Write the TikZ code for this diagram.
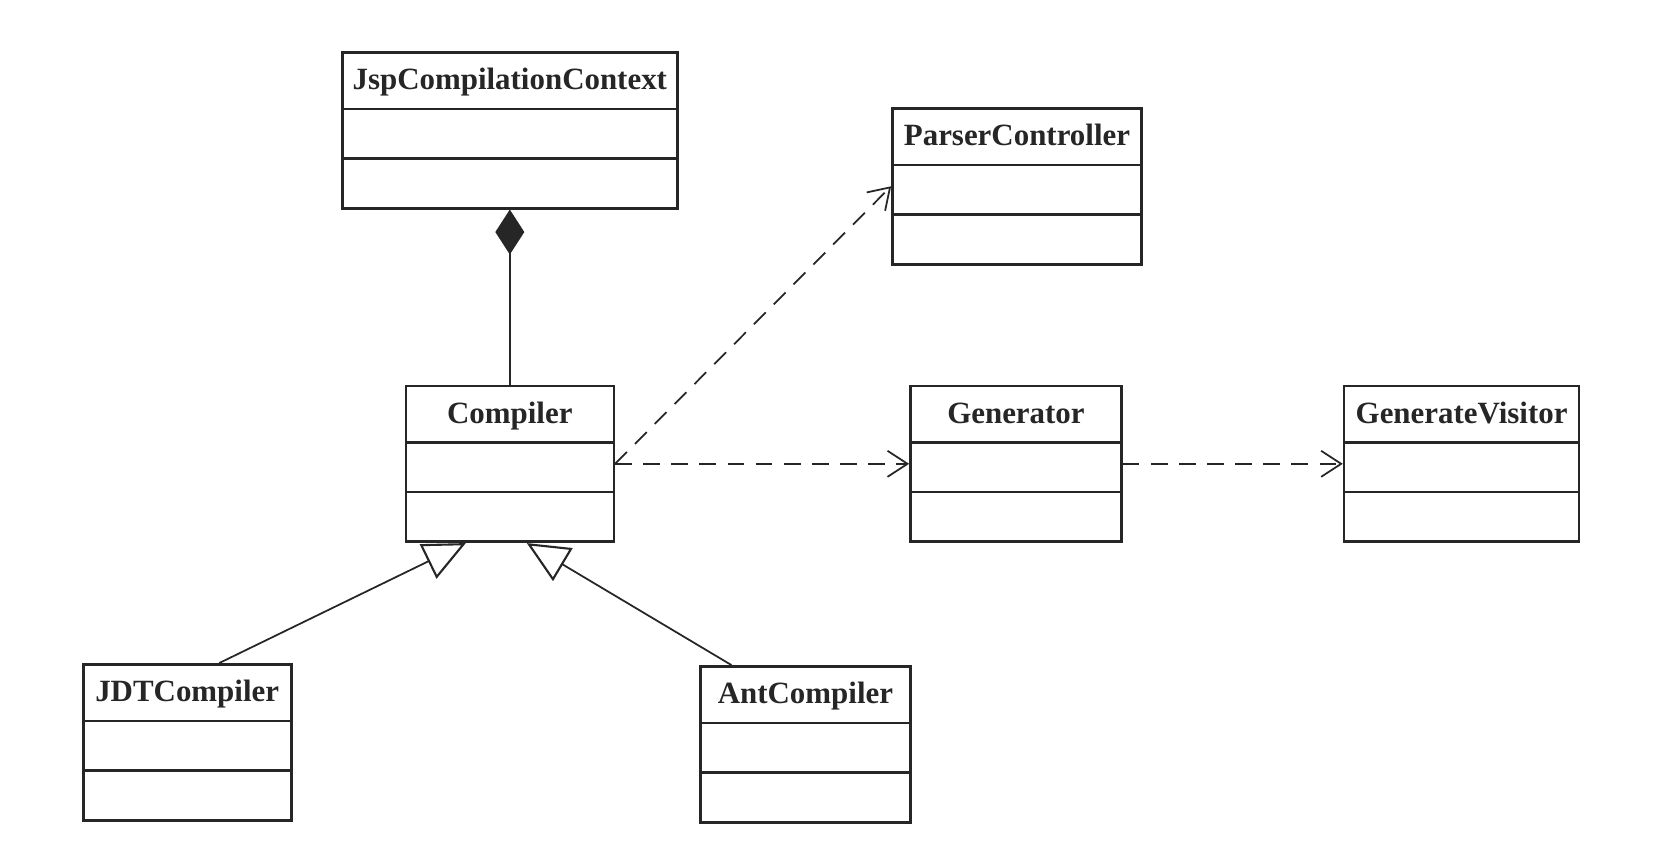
\documentclass[tikz,border=0pt]{standalone}
\usepackage{fontspec}
\setmainfont{Liberation Serif}
\usetikzlibrary{arrows.meta}
\usetikzlibrary{positioning}
\usetikzlibrary{shapes.multipart}
% class name with a fixed strut, so all headers get the same height
\newcommand{\clsname}[1]{\rule[-0.16cm]{0pt}{0.68cm}#1}
\tikzset {
  uml path/.style = {
    draw = black!85,
    line width = 1pt
  },
  % dependency path, dashed with an open arrow
  dep/.style = {
    uml path,
    dash pattern = on 9.5pt off 6.5pt,
    -{Straight Barb[length=0.4cm,width=0.52cm]}
  },
  % generalization path
  inh/.style = {
    uml path,
    -{Triangle[open,length=0.84cm,width=0.76cm,line width=1.2pt]}
  },
  % composition path
  comp/.style = {
    uml path,
    {Diamond[length=0.9cm,width=0.58cm]}-
  }
}
\tikzset {
  % class symbol: name, attributes, operations
  cls/.style = {
    draw = black!85,
    color = black!85,
    line width = 1.5pt,
    rectangle split,
    rectangle split parts = 3,
    rectangle split empty part height = 0.54cm,
    rectangle split empty part depth = 0pt,
    inner ysep = 0.2cm,
    font = \bfseries\fontsize{17.6}{20}\selectfont
  }
}
\begin{document}
\begin{tikzpicture}
  \useasboundingbox (0,0) rectangle (33.1,-17.06);
  \node[cls, minimum width=6.7cm, anchor=north west] (jsp) at (6.82,-1.02) {\clsname{JspCompilationContext}};
  \node[cls, minimum width=4.16cm] (compiler) [below=3.5cm of jsp] {\clsname{Compiler}};
  \node[cls, minimum width=4.98cm] (parser) [above right=2.38cm and 5.52cm of compiler] {\clsname{ParserController}};
  \node[cls, minimum width=4.22cm] (generator) [right=5.88cm of compiler] {\clsname{Generator}};
  \node[cls, minimum width=4.7cm] (visitor) [right=4.4cm of generator] {\clsname{GenerateVisitor}};
  \node[cls, minimum width=4.16cm] (jdt) [below left=2.4cm and 2.24cm of compiler] {\clsname{JDTCompiler}};
  \node[cls, minimum width=4.2cm] (ant) [below right=2.44cm and 1.68cm of compiler] {\clsname{AntCompiler}};

  \draw[comp] (jsp.south) -- (compiler.north);
  \draw[dep] (compiler.east) -- (parser.west);
  \draw[dep] (compiler.east) -- (generator.west);
  \draw[dep] (generator.east) -- (visitor.west);
  \draw[inh] ([xshift=0.64cm]jdt.north) -- ([xshift=-0.88cm]compiler.south);
  \draw[inh] ([xshift=-1.48cm]ant.north) -- ([xshift=0.34cm]compiler.south);
\end{tikzpicture}
\end{document}
